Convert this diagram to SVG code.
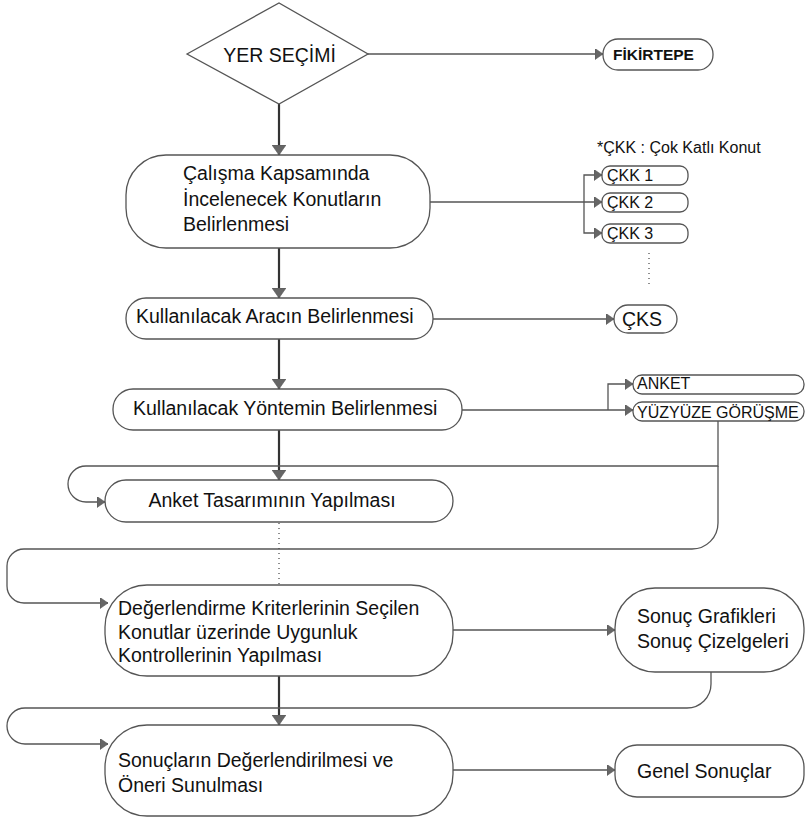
<svg xmlns="http://www.w3.org/2000/svg" width="805" height="818" viewBox="0 0 805 818">
<style>
.box{fill:#fff;stroke:#555;stroke-width:1.3}
.t{font-family:"Liberation Sans",Arial,sans-serif;font-size:19.5px;fill:#111}
.s{font-family:"Liberation Sans",Arial,sans-serif;font-size:16px;fill:#111}
.b{font-family:"Liberation Sans",Arial,sans-serif;font-size:15.5px;font-weight:bold;fill:#111}
.main{fill:none;stroke:#333;stroke-width:2.2;marker-end:url(#aV)}
.thin{fill:none;stroke:#555;stroke-width:1.3}
.arr{marker-end:url(#aS)}
.dot{fill:none;stroke:#444;stroke-width:1.2;stroke-dasharray:1 4}
</style>
<defs>
<marker id="aV" markerUnits="userSpaceOnUse" markerWidth="10" markerHeight="14" viewBox="0 0 10 14" refX="10" refY="7" orient="auto">
<path d="M0,0 L10,7 L0,14 z" fill="#666" stroke="#555" stroke-width="0.6"/>
</marker>
<marker id="aS" markerUnits="userSpaceOnUse" markerWidth="8" markerHeight="11" viewBox="0 0 8 11" refX="8" refY="5.5" orient="auto">
<path d="M0,0 L8,5.5 L0,11 z" fill="#666" stroke="#555" stroke-width="0.6"/>
</marker>
</defs>

<g id="connectors">
<path class="thin arr" d="M368,54 H603"/>
<path class="main" d="M279,104 V155"/>
<path class="thin arr" d="M430,202 H602"/>
<path class="thin arr" d="M584,202 V175 H602"/>
<path class="thin arr" d="M584,202 V233 H602"/>
<path class="dot" d="M649,253 V286"/>
<path class="main" d="M279,248 V298"/>
<path class="thin arr" d="M433,319 H614"/>
<path class="main" d="M279,339 V389"/>
<path class="thin arr" d="M462,410 H633"/>
<path class="thin arr" d="M608,410 V384 H633"/>
<path class="main" d="M279,430 V480"/>
<path class="thin arr" d="M718,421 V466 H86 A18,18 0 0 0 68,484 A18,18 0 0 0 86,502 H105"/>
<path class="thin arr" d="M718,466 V523 A26,26 0 0 1 692,549 H24 A17,17 0 0 0 7,566 V586 A17,17 0 0 0 24,603 H108"/>
<path class="dot" d="M279,523 V585"/>
<path class="main" d="M279,676 V725"/>
<path class="thin arr" d="M453,630 H615"/>
<path class="thin arr" d="M711,672 V684 A24,24 0 0 1 687,708 H25 A18,18 0 0 0 7,726 A18,18 0 0 0 25,744 H108"/>
<path class="thin arr" d="M453,770 H615"/>
</g>

<g id="yer-secimi">
<polygon class="box" points="187,54 279,3 368,54 279,104"/>
<text class="t" x="279.5" y="61.5" text-anchor="middle">YER SEÇİMİ</text>
</g>
<g id="fikirtepe">
<rect class="box" x="603" y="39" width="110" height="31" rx="15"/>
<text class="b" x="613" y="60">FİKİRTEPE</text>
</g>
<g id="calisma">
<rect class="box" x="126" y="155" width="304" height="93" rx="40"/>
<text class="t" x="183" y="180">Çalışma Kapsamında</text>
<text class="t" x="183" y="206">İncelenecek Konutların</text>
<text class="t" x="183" y="231">Belirlenmesi</text>
</g>
<g id="ckk-note">
<text class="s" x="597" y="152.5">*ÇKK : Çok Katlı Konut</text>
</g>
<g id="ckk1">
<rect class="box" x="602" y="166" width="86" height="19" rx="8"/>
<text class="s" x="607" y="181">ÇKK 1</text>
</g>
<g id="ckk2">
<rect class="box" x="602" y="193" width="86" height="19" rx="8"/>
<text class="s" x="607" y="208">ÇKK 2</text>
</g>
<g id="ckk3">
<rect class="box" x="602" y="224" width="86" height="19" rx="8"/>
<text class="s" x="607" y="239">ÇKK 3</text>
</g>
<g id="arac">
<rect class="box" x="126" y="298" width="307" height="41" rx="20"/>
<text class="t" x="136" y="323">Kullanılacak Aracın Belirlenmesi</text>
</g>
<g id="cks">
<rect class="box" x="614" y="305" width="63" height="28" rx="14"/>
<text class="t" x="622" y="326">ÇKS</text>
</g>
<g id="yontem">
<rect class="box" x="113" y="389" width="349" height="41" rx="20"/>
<text class="t" x="133" y="415">Kullanılacak Yöntemin Belirlenmesi</text>
</g>
<g id="anket">
<rect class="box" x="633" y="375" width="171" height="19" rx="9"/>
<text class="s" x="637" y="389">ANKET</text>
</g>
<g id="yuzyuze">
<rect class="box" x="633" y="402" width="171" height="19" rx="9"/>
<text class="s" x="637" y="418">YÜZYÜZE GÖRÜŞME</text>
</g>
<g id="anket-tasarimi">
<rect class="box" x="105" y="480" width="348" height="42" rx="21"/>
<text class="t" x="272" y="507" text-anchor="middle">Anket Tasarımının Yapılması</text>
</g>
<g id="degerlendirme">
<rect class="box" x="105" y="585" width="348" height="91" rx="42"/>
<text class="t" x="118" y="615">Değerlendirme Kriterlerinin Seçilen</text>
<text class="t" x="118" y="638.5">Konutlar üzerinde Uygunluk</text>
<text class="t" x="118" y="662">Kontrollerinin Yapılması</text>
</g>
<g id="sonuc-grafikleri">
<rect class="box" x="615" y="588" width="189" height="84" rx="40"/>
<text class="t" x="637" y="623">Sonuç Grafikleri</text>
<text class="t" x="637" y="648">Sonuç Çizelgeleri</text>
</g>
<g id="sonuclarin">
<rect class="box" x="105" y="725" width="348" height="91" rx="42"/>
<text class="t" x="118" y="766.5">Sonuçların Değerlendirilmesi ve</text>
<text class="t" x="118" y="791.5">Öneri Sunulması</text>
</g>
<g id="genel">
<rect class="box" x="615" y="745" width="189" height="52" rx="22"/>
<text class="t" x="637" y="778">Genel Sonuçlar</text>
</g>
</svg>
